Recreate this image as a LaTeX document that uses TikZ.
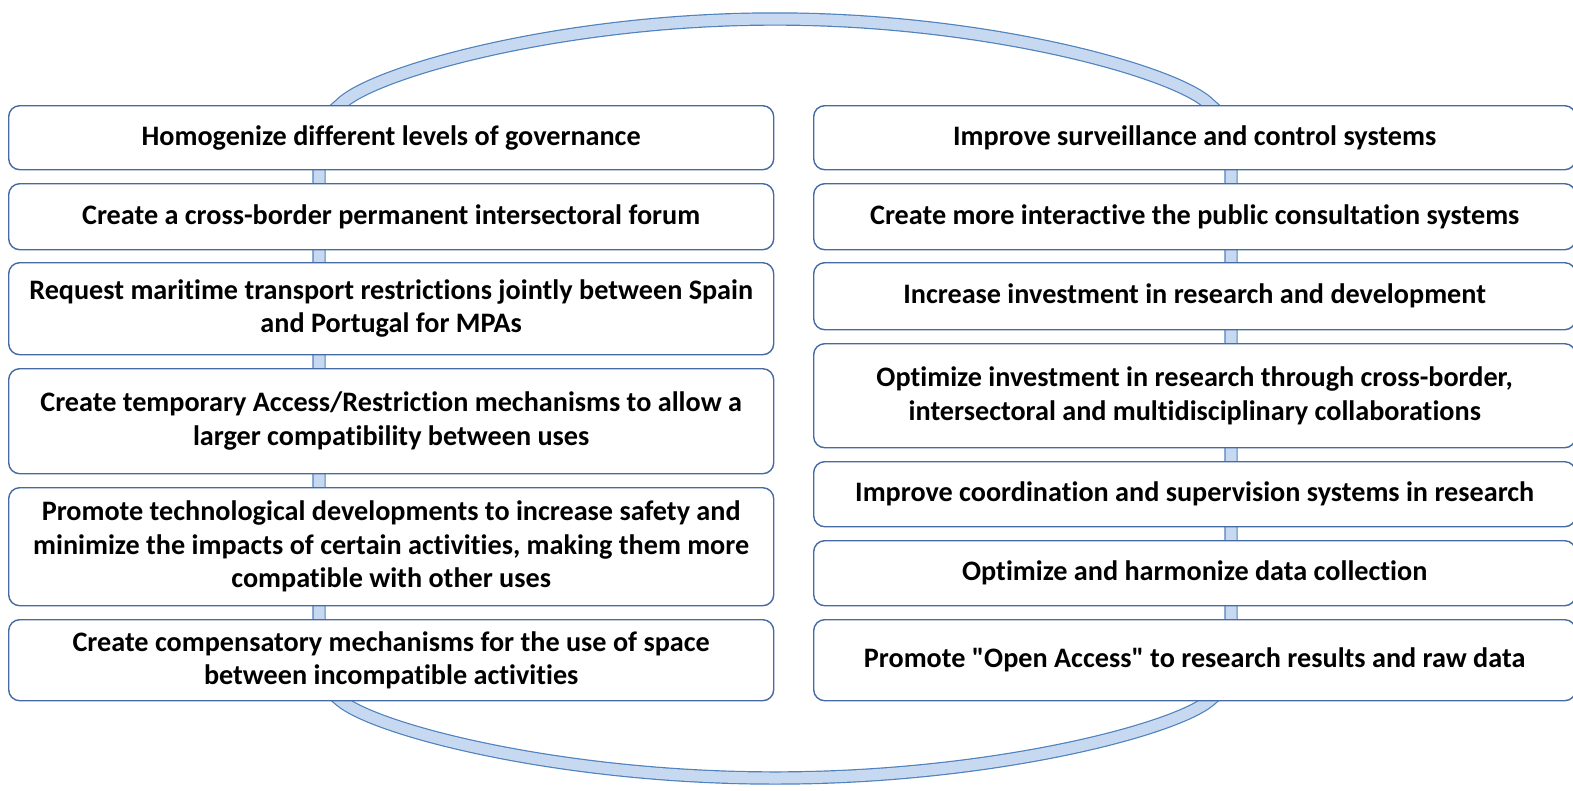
\documentclass[tikz,border=0pt]{standalone}
\usepackage{fontspec}
\setmainfont{Carlito}[Ligatures={NoCommon}]
\definecolor{ringfill}{RGB}{198,217,241}
\definecolor{ringedge}{RGB}{79,129,189}
\definecolor{boxedge}{RGB}{70,106,164}
\begin{document}
\begin{tikzpicture}[x=1pt,y=-1pt,
  item/.style={draw=boxedge, line width=1.4pt, fill=white, rounded corners=11pt,
    anchor=north west, align=center, inner sep=0pt,
    font=\fontsize{28.2}{33.5}\selectfont\bfseries},
  lbox/.style={item, minimum width=765pt},
  rbox/.style={item, minimum width=762pt},
  ring/.style={draw=ringedge, line width=1.2pt, double=ringfill, double distance=11pt}]
\useasboundingbox (0,0) rectangle (1573,790);
% ring behind the boxes
\draw[ring] (319,400) -- (319,150) .. controls (319,125) and (328,115) .. (340,105)
  .. controls (370,73) and (560,19) .. (775,19)
  .. controls (990,19) and (1180,73) .. (1210,105)
  .. controls (1222,115) and (1231,125) .. (1231,150)
  -- (1231,650) .. controls (1231,680) and (1222,690) .. (1210,700)
  .. controls (1175,730) and (990,778) .. (775,778)
  .. controls (560,778) and (375,730) .. (340,700)
  .. controls (328,690) and (319,680) .. (319,650) -- cycle;
% left column
\node[lbox, minimum height=64pt] (l1) at (8,105) {Homogenize different levels of governance};
\node[lbox, minimum height=66pt] (l2) at (8,183) {Create a cross-border permanent intersectoral forum};
\node[lbox, minimum height=92pt] (l3) at (8,262) {Request maritime transport restrictions jointly between Spain\\ and Portugal for MPAs};
\node[lbox, minimum height=105pt] (l4) at (8,368) {Create temporary Access/Restriction mechanisms to allow a\\ larger compatibility between uses};
\node[lbox, minimum height=118pt] (l5) at (8,487) {Promote technological developments to increase safety and\\ minimize the impacts of certain activities, making them more\\ compatible with other uses};
\node[lbox, minimum height=81pt] (l6) at (8,619) {Create compensatory mechanisms for the use of space\\ between incompatible activities};
% right column
\node[rbox, minimum height=64pt] (r1) at (813,105) {Improve surveillance and control systems};
\node[rbox, minimum height=66pt] (r2) at (813,183) {Create more interactive the public consultation systems};
\node[rbox, minimum height=67pt] (r3) at (813,262) {Increase investment in research and development};
\node[rbox, minimum height=104pt] (r4) at (813,343) {Optimize investment in research through cross-border,\\ intersectoral and multidisciplinary collaborations};
\node[rbox, minimum height=65pt] (r5) at (813,461) {Improve coordination and supervision systems in research};
\node[rbox, minimum height=65pt] (r6) at (813,540) {Optimize and harmonize data collection};
\node[rbox, minimum height=81pt] (r7) at (813,619) {Promote \textquotedbl Open Access\textquotedbl{} to research results and raw data};
\end{tikzpicture}
\end{document}
